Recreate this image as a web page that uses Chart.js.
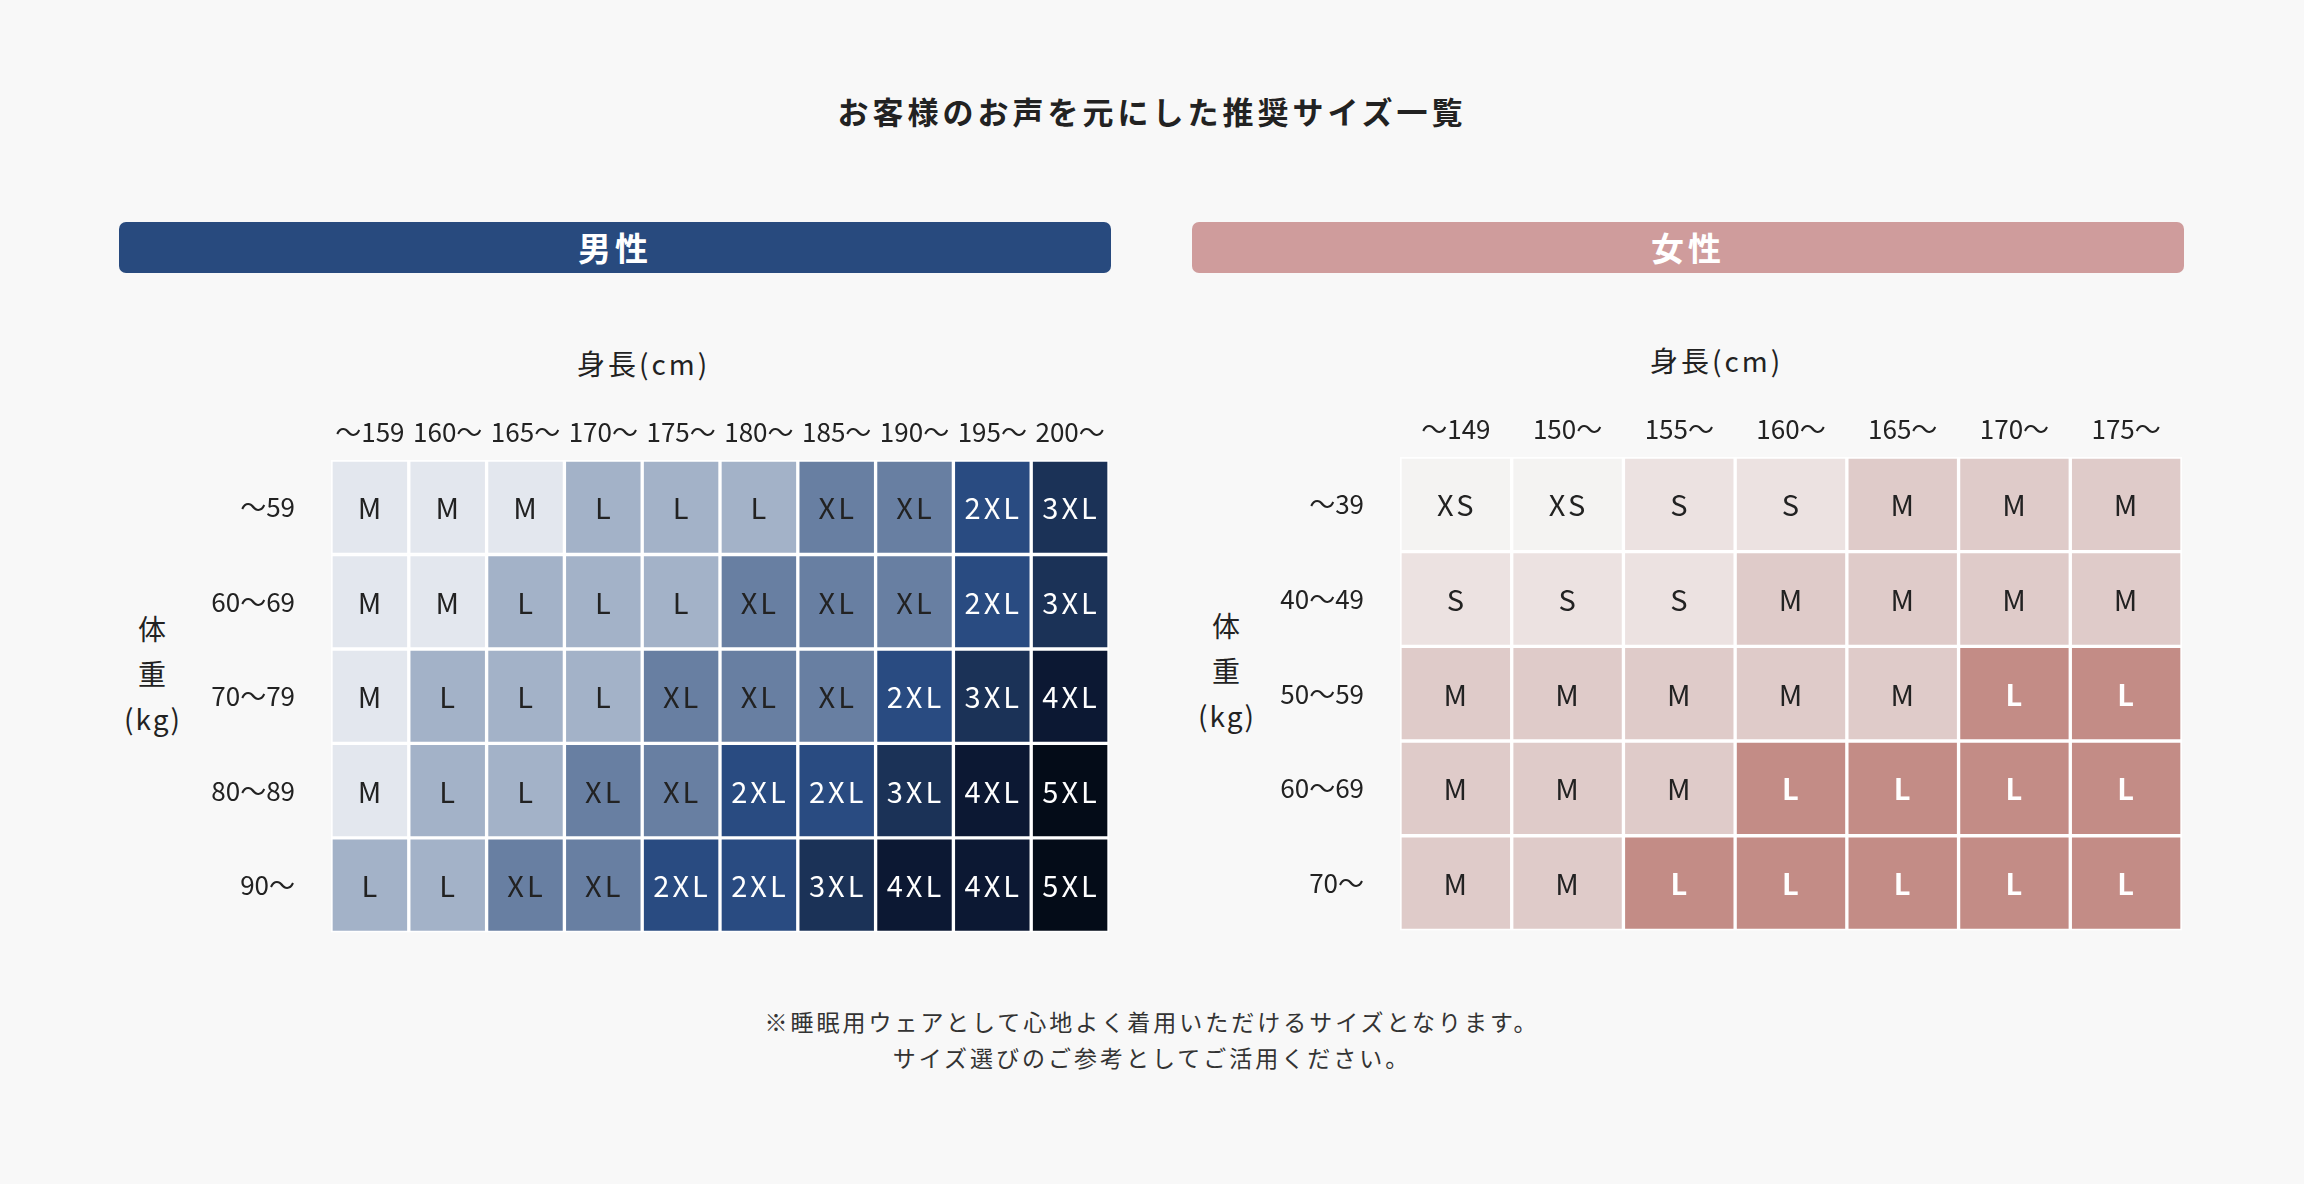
<!DOCTYPE html>
<html><head><meta charset="utf-8">
<script src="https://cdn.jsdelivr.net/npm/chart.js@4"></script>
<style>
body{margin:0;background:#f8f8f8;width:2304px;height:1184px;position:relative;overflow:hidden;font-family:"Noto Sans CJK JP","Noto Sans",sans-serif;color:#222}
.abs{position:absolute}
.title{left:0;width:2304px;top:88px;text-align:center;font-size:31px;font-weight:700;letter-spacing:4px}
.band{top:222px;height:51px;border-radius:7px;color:#fff;font-size:33px;font-weight:700;text-align:center;line-height:51px;letter-spacing:4px}
.axt{font-size:28px;letter-spacing:3px}
.vt{font-size:28px;text-align:center;line-height:45px;letter-spacing:2px}
.foot{left:0;width:2304px;text-align:center;font-size:23px;letter-spacing:3px;color:#333}
</style></head><body>
<div class="abs title">お客様のお声を元にした推奨サイズ一覧</div>
<div class="abs band" style="left:119px;width:992px;background:#284a7e">男性</div>
<div class="abs band" style="left:1192px;width:992px;background:#cf9c9c">女性</div>
<div class="abs axt" style="left:577px;top:343px">身長(cm)</div>
<div class="abs axt" style="left:1650px;top:340px">身長(cm)</div>
<div class="abs vt" style="left:113px;top:606px;width:80px">体<br>重<br>(kg)</div>
<div class="abs vt" style="left:1187px;top:603px;width:80px">体<br>重<br>(kg)</div>
<div class="abs foot" style="top:1004px">※睡眠用ウェアとして心地よく着用いただけるサイズとなります。</div>
<div class="abs foot" style="top:1040px">サイズ選びのご参考としてご活用ください。</div>
<div class="abs" style="left:181px;top:390px;width:928px;height:586px"><canvas id="men"></canvas></div>
<div class="abs" style="left:1250px;top:387px;width:932px;height:587px"><canvas id="women"></canvas></div>
<script>
const menHeights=["～159","160～","165～","170～","175～","180～","185～","190～","195～","200～"];
const menWeights=["～59","60～69","70～79","80～89","90～"];
const menSizes=[
["M","M","M","L","L","L","XL","XL","2XL","3XL"],
["M","M","L","L","L","XL","XL","XL","2XL","3XL"],
["M","L","L","L","XL","XL","XL","2XL","3XL","4XL"],
["M","L","L","XL","XL","2XL","2XL","3XL","4XL","5XL"],
["L","L","XL","XL","2XL","2XL","3XL","4XL","4XL","5XL"]];
const womenHeights=["～149","150～","155～","160～","165～","170～","175～"];
const womenWeights=["～39","40～49","50～59","60～69","70～"];
const womenSizes=[
["XS","XS","S","S","M","M","M"],
["S","S","S","M","M","M","M"],
["M","M","M","M","M","L","L"],
["M","M","M","L","L","L","L"],
["M","M","L","L","L","L","L"]];
const menColors={M:"#e3e7ee",L:"#a3b2c8",XL:"#687fa2",["2XL"]:"#294b81",["3XL"]:"#1b3257",["4XL"]:"#0c1833",["5XL"]:"#040c18"};
const womenColors={XS:"#f4f3f2",S:"#ece2e1",M:"#dfcbc9",L:"#c38c86"};

function make(id,heights,weights,sizes,colors,textStyle){
  const n=heights.length;
  const datasets=heights.map((h,c)=>({
    data:weights.map(()=>[c,c+1]),
    backgroundColor:weights.map((w,r)=>colors[sizes[r][c]]),
    borderColor:"#ffffff",borderWidth:2,borderSkipped:false,
    barPercentage:1,categoryPercentage:1,grouped:false
  }));
  const labelPlugin={id:"cellLabels",afterDatasetsDraw(chart){
    const ctx=chart.ctx,xs=chart.scales.x,ys=chart.scales.y;
    ctx.save();ctx.textAlign="center";ctx.textBaseline="middle";
    sizes.forEach((row,r)=>row.forEach((s,c)=>{
      const st=textStyle(s);
      ctx.fillStyle=st.color;ctx.font=st.font;
      if(ctx.letterSpacing!==undefined)ctx.letterSpacing="3px";
      ctx.fillText(s,xs.getPixelForValue(c+0.5)+1,ys.getPixelForValue(r)+1);
    }));
    ctx.restore();
  }};
  new Chart(document.getElementById(id),{type:"bar",
    data:{labels:weights,datasets},
    options:{indexAxis:"y",responsive:true,maintainAspectRatio:false,animation:false,
      layout:{padding:0},
      plugins:{legend:{display:false},tooltip:{enabled:false}},
      scales:{
        x:{type:"linear",position:"top",min:0,max:n,grid:{display:false},border:{display:false},
          afterBuildTicks(a){a.ticks=heights.map((h,i)=>({value:i+0.5}));},
          afterFit(a){a.height=70;},
          ticks:{autoSkip:false,maxRotation:0,padding:4,color:"#222",font:{size:26,family:"Noto Sans CJK JP"},
            callback:(v)=>heights[Math.round(v-0.5)]}},
        y:{grid:{display:false},border:{display:false},afterFit(a){a.width=150;},
          ticks:{padding:28,color:"#222",font:{size:26,family:"Noto Sans CJK JP"}}}
      }},
    plugins:[labelPlugin]});
}
make("men",menHeights,menWeights,menSizes,menColors,s=>({
  color:["2XL","3XL","4XL","5XL"].includes(s)?"#ffffff":"#222",
  font:"400 29px 'Noto Sans CJK JP'"}));
make("women",womenHeights,womenWeights,womenSizes,womenColors,s=>({
  color:s==="L"?"#ffffff":"#222",
  font:(s==="L"?"700":"400")+" 29px 'Noto Sans CJK JP'"}));
</script>
</body></html>
